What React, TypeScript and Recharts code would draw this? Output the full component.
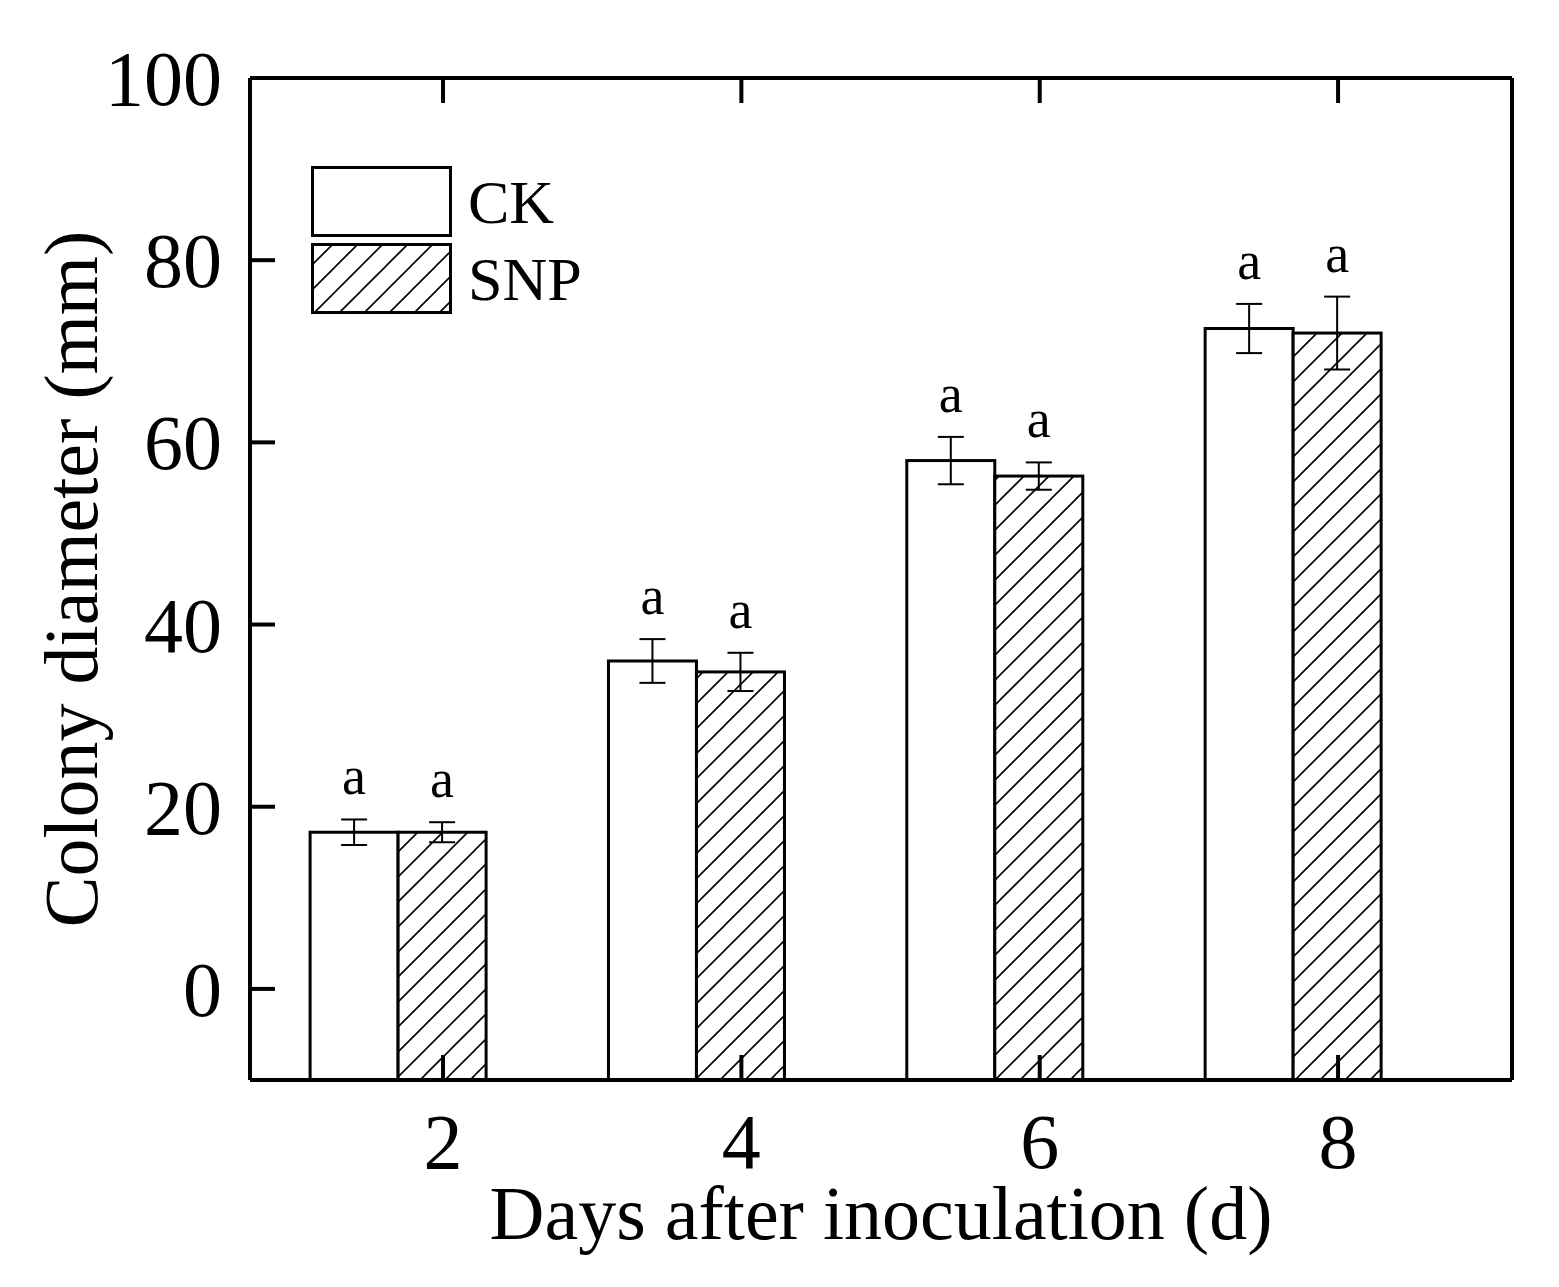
import React from "react";
import { BarChart, Bar, XAxis, YAxis } from "recharts";

const days = [2, 4, 6, 8];
const ckMean = [17.2, 36.0, 58.0, 72.5];
const ckErr = [1.4, 2.4, 2.6, 2.7];
const snpMean = [17.2, 34.8, 56.3, 72.0];
const snpErr = [1.1, 2.1, 1.5, 4.0];
const ckSig = ["a", "a", "a", "a"];
const snpSig = ["a", "a", "a", "a"];
const yTicks = [0, 20, 40, 60, 80, 100];

const Y_MIN = -10;
const GROUP_SHIFT = 0.3; // bar pair sits left of each tick

const data = days.map((d, i) => ({
  pos: d - GROUP_SHIFT,
  ck: [Y_MIN, ckMean[i]],
  snp: [Y_MIN, snpMean[i]],
  ckErr: ckErr[i],
  snpErr: snpErr[i],
  ckSig: ckSig[i],
  snpSig: snpSig[i],
}));

const FONT = "'Liberation Serif', 'Times New Roman', serif";

function makeShape(key: string, hatch: boolean) {
  return (props: any) => {
    const { x, y, width, height, payload } = props;
    const val = payload[key][1];
    const ppu = height / (val - Y_MIN);
    const e = payload[key + "Err"] * ppu;
    const cx = x + width / 2;
    return (
      <g>
        <rect x={x} y={y} width={width} height={height} fill={hatch ? "url(#hatch)" : "#fff"} stroke="#000" strokeWidth={3} />
        <line x1={cx} x2={cx} y1={y - e} y2={y + e} stroke="#000" strokeWidth={2} />
        <line x1={cx - 13} x2={cx + 13} y1={y - e} y2={y - e} stroke="#000" strokeWidth={2} />
        <line x1={cx - 13} x2={cx + 13} y1={y + e} y2={y + e} stroke="#000" strokeWidth={2} />
        <text x={cx} y={y - e - 25} textAnchor="middle" fontFamily={FONT} fontSize={54} fill="#000">
          {payload[key + "Sig"]}
        </text>
      </g>
    );
  };
}

const BottomTick = (p: any) => (
  <g>
    <line x1={p.x} x2={p.x} y1={p.y} y2={p.y - 25} stroke="#000" strokeWidth={4} />
    <text x={p.x} y={p.y + 88} textAnchor="middle" fontFamily={FONT} fontSize={78} fill="#000">
      {p.payload.value}
    </text>
  </g>
);
const TopTick = (p: any) => (
  <line x1={p.x} x2={p.x} y1={78} y2={103} stroke="#000" strokeWidth={4} />
);
const LeftTick = (p: any) => (
  <g>
    <line x1={250} x2={275} y1={p.y} y2={p.y} stroke="#000" strokeWidth={4} />
    {p.payload.value >= 0 && (
      <text x={222} y={p.y + 27} textAnchor="end" fontFamily={FONT} fontSize={78} fill="#000">
        {p.payload.value}
      </text>
    )}
  </g>
);
const RightTick = (p: any) => (
  <line x1={1512} x2={1487} y1={p.y} y2={p.y} stroke="#000" strokeWidth={4} />
);

export default function App() {
  return (
    <div style={{ position: "absolute", left: 0, top: 0, width: 1559, height: 1287, background: "#fff" }}>
      <BarChart
        width={1559}
        height={1287}
        data={data}
        margin={{ top: 77, right: 46, bottom: 0, left: 150 }}
        barGap={0}
        barSize={88}
      >
        <defs>
          <pattern id="hatch" patternUnits="userSpaceOnUse" width={25} height={25}>
            <rect width={25} height={25} fill="#fff" />
            <path d="M-5,5 L5,-5 M0,25 L25,0 M20,30 L30,20" stroke="#000" strokeWidth={1.6} />
          </pattern>
        </defs>
        <XAxis
          xAxisId="b"
          type="number"
          dataKey="pos"
          domain={[0.706, 9.166]}
          ticks={days}
          allowDataOverflow
          height={207}
          tickSize={0}
          tickMargin={0}
          tick={BottomTick}
          axisLine={{ stroke: "#000", strokeWidth: 4 }}
          label={{ value: "Days after inoculation (d)", position: "insideBottom", offset: 48, fontFamily: FONT, fontSize: 76, fill: "#000" }}
        />
        <XAxis
          xAxisId="t"
          orientation="top"
          type="number"
          dataKey="pos"
          domain={[0.706, 9.166]}
          ticks={days}
          allowDataOverflow
          height={1}
          tickSize={0}
          tick={TopTick}
          axisLine={{ stroke: "#000", strokeWidth: 4 }}
        />
        <YAxis
          yAxisId="l"
          domain={[Y_MIN, 100]}
          ticks={yTicks}
          width={100}
          tickSize={0}
          tick={LeftTick}
          axisLine={{ stroke: "#000", strokeWidth: 4 }}
          label={{ value: "Colony diameter (mm)", angle: -90, position: "insideLeft", offset: -80, fontFamily: FONT, fontSize: 76, fill: "#000", style: { textAnchor: "middle" } }}
        />
        <YAxis
          yAxisId="r"
          orientation="right"
          domain={[Y_MIN, 100]}
          ticks={yTicks}
          width={1}
          tickSize={0}
          tick={RightTick}
          axisLine={{ stroke: "#000", strokeWidth: 4 }}
        />
        <Bar xAxisId="b" yAxisId="l" dataKey="ck" name="CK" shape={makeShape("ck", false)} isAnimationActive={false} />
        <Bar xAxisId="b" yAxisId="l" dataKey="snp" name="SNP" shape={makeShape("snp", true)} isAnimationActive={false} />
      </BarChart>
      <svg width={340} height={160} style={{ position: "absolute", left: 311, top: 166, overflow: "visible" }}>
        <defs>
          <pattern id="hatchL" patternUnits="userSpaceOnUse" width={25} height={25}>
            <rect width={25} height={25} fill="#fff" />
            <path d="M-5,5 L5,-5 M0,25 L25,0 M20,30 L30,20" stroke="#000" strokeWidth={1.6} />
          </pattern>
        </defs>
        <rect x={1.5} y={1.5} width={138} height={68} fill="#fff" stroke="#000" strokeWidth={3} />
        <rect x={1.5} y={78.5} width={138} height={68} fill="url(#hatchL)" stroke="#000" strokeWidth={3} />
        <text x={157} y={57} fontFamily={FONT} fontSize={62} fill="#000">CK</text>
        <text x={157} y={134} fontFamily={FONT} fontSize={62} fill="#000">SNP</text>
      </svg>
    </div>
  );
}
